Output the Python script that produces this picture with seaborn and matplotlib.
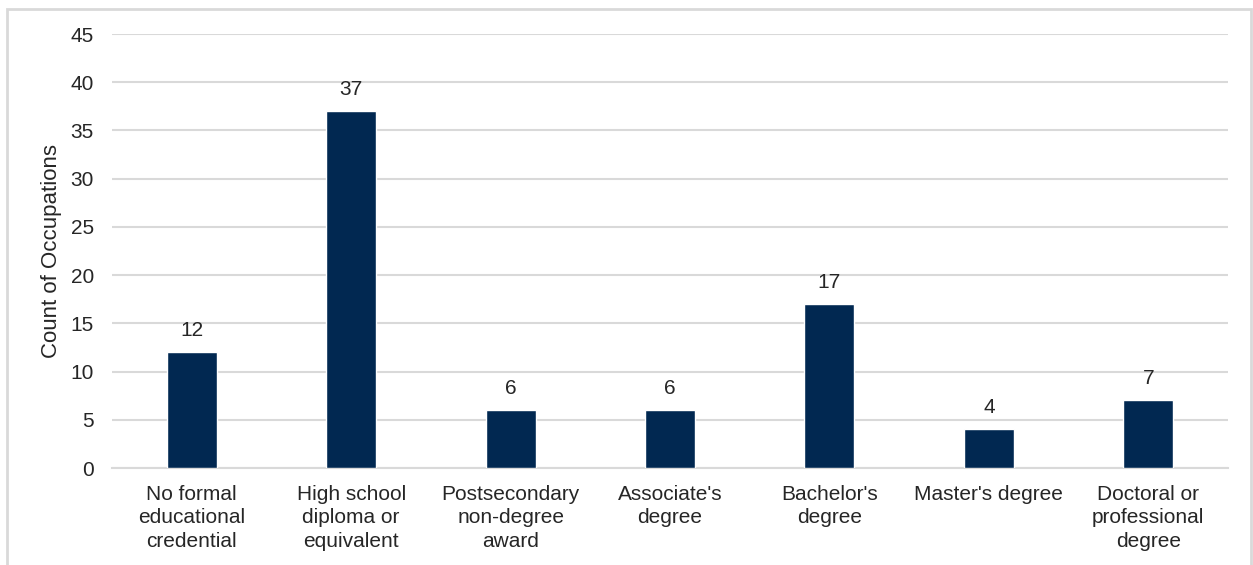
import matplotlib
matplotlib.use("Agg")
import matplotlib.pyplot as plt
import seaborn as sns
import pandas as pd
from matplotlib.patches import Rectangle

categories = [
    "No formal\neducational\ncredential",
    "High school\ndiploma or\nequivalent",
    "Postsecondary\nnon-degree\naward",
    "Associate's\ndegree",
    "Bachelor's\ndegree",
    "Master's degree",
    "Doctoral or\nprofessional\ndegree",
]
counts = [12, 37, 6, 6, 17, 4, 7]
y_ticks = [0, 5, 10, 15, 20, 25, 30, 35, 40, 45]

sns.set_theme(style="white")
plt.rcParams["font.family"] = ["Liberation Sans", "DejaVu Sans"]

text_color = "#262626"
bar_color = "#012851"
grid_color = "#d9d9d9"

df = pd.DataFrame({"education": categories, "count": counts})

fig = plt.figure(figsize=(12.53, 5.65), dpi=100)
ax = fig.add_axes([112 / 1253, 1 - 468 / 565, (1228 - 112) / 1253, (468 - 34) / 565])

sns.barplot(data=df, x="education", y="count", color=bar_color, width=0.314,
            saturation=1, ax=ax, zorder=3)

ax.set_ylim(0, 45)
ax.set_xlim(-0.5, len(categories) - 0.5)
ax.set_yticks(y_ticks)
ax.set_yticklabels([str(t) for t in y_ticks])
ax.yaxis.grid(True, color=grid_color, linewidth=1.5, zorder=0)
ax.xaxis.grid(False)
for side in ["top", "right", "left"]:
    ax.spines[side].set_visible(False)
ax.spines["bottom"].set_color(grid_color)
ax.spines["bottom"].set_linewidth(1.5)

ax.tick_params(axis="y", length=0, pad=13, labelsize=15, labelcolor=text_color)
ax.tick_params(axis="x", length=0, pad=12, labelsize=15, labelcolor=text_color)
for lbl in ax.get_xticklabels():
    lbl.set_linespacing(1.32)

ax.set_xlabel("")
ax.set_ylabel("Count of Occupations", fontsize=16, color=text_color, labelpad=6)

for i, v in enumerate(counts):
    ax.annotate(str(v), (i, v), xytext=(0, 9), textcoords="offset points",
                ha="center", va="bottom", fontsize=15, color=text_color)

# light frame around the chart area
frame = Rectangle((7 / 1253, -0.05), (1251 - 7) / 1253, 1.05 - 9 / 565,
                  transform=fig.transFigure, fill=False, edgecolor="#d9d9d9",
                  linewidth=2, clip_on=False)
fig.patches.append(frame)

fig.savefig("out.png", dpi=100, facecolor="white")
